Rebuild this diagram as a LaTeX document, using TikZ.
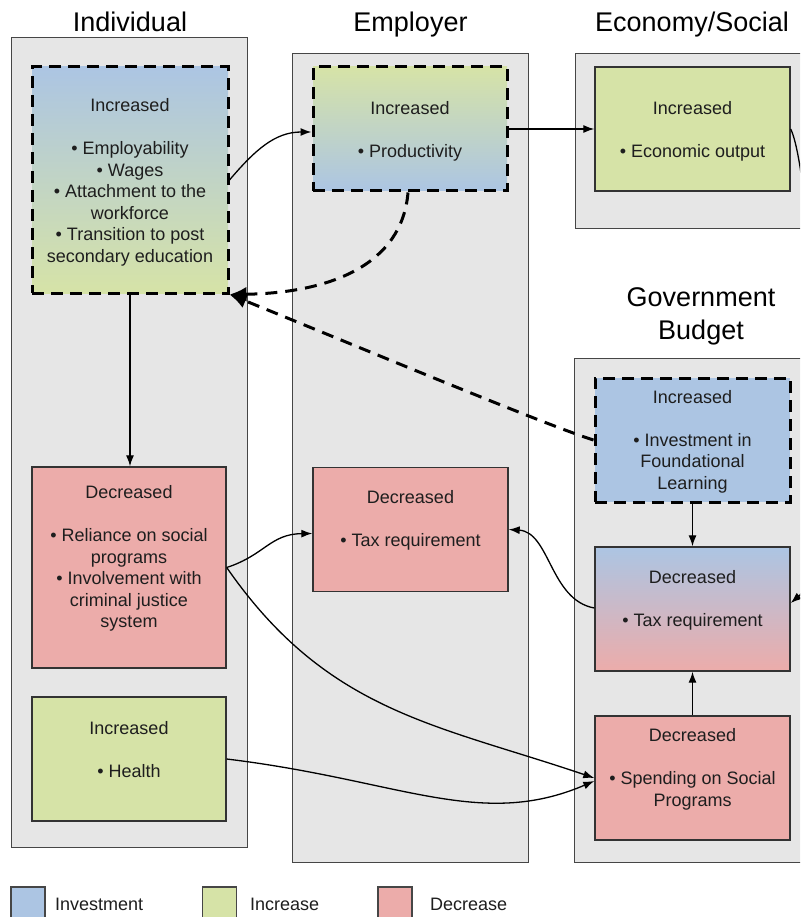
\documentclass[tikz,border=0pt]{standalone}
\usepackage{fontspec}
\setmainfont{Liberation Sans}
\usetikzlibrary{arrows.meta}
\definecolor{cblue}{RGB}{172,197,227}
\definecolor{cgreen}{RGB}{214,227,167}
\definecolor{cred}{RGB}{236,172,170}
\definecolor{cgray}{RGB}{230,230,230}
\definecolor{cline}{RGB}{70,70,70}
\definecolor{ctext}{RGB}{30,30,30}
\begin{document}
\begin{tikzpicture}[x=1pt,y=1pt,
  col/.style={fill=cgray, draw=cline, line width=1.4pt, anchor=north west, inner sep=0pt},
  box/.style={draw=black!80, line width=1.4pt, minimum width=195pt, minimum height=124pt, inner sep=0pt},
  dbox/.style={draw=black, line width=3pt, dash pattern=on 12pt off 7pt, minimum width=195pt, minimum height=124pt, inner sep=0pt},
  txt/.style={font=\fontsize{18}{21.5}\selectfont, align=center, inner sep=0pt, text=ctext},
  head/.style={font=\fontsize{27}{33}\selectfont, inner sep=0pt, anchor=base, text=black},
  arr/.style={-{Latex[length=11pt,width=8pt]}, line width=1.3pt},
  darr/.style={-{Latex[length=17pt,width=15pt]}, line width=3pt, dash pattern=on 12pt off 8pt},
  leg/.style={draw=cline, line width=1.4pt, minimum width=34pt, minimum height=34pt, inner sep=0pt},
  ltxt/.style={font=\fontsize{18}{21.5}\selectfont, anchor=west, inner sep=0pt, text=ctext}
]
\useasboundingbox (0,0) rectangle (800,-917);
\clip (0,0) rectangle (800,-917);
\fill[white] (0,0) rectangle (800,-917);

% columns
\node[col, minimum width=236pt, minimum height=810pt] (colind) at (11,-37) {};
\node[col, minimum width=236pt, minimum height=809pt] (colemp) at (292,-53) {};
\node[col, minimum width=255pt, minimum height=175pt] (colecon) at (575,-53) {};
\node[col, minimum width=256pt, minimum height=504pt] (colgov) at (574,-358) {};

% headers
\node[head] (hind) at (130,-31.5) {Individual};
\node[head] (hemp) at (410.5,-31.5) {Employer};
\node[head] (hecon) at (692,-31.5) {Economy/Social};
\node[head] (hgova) at (701,-306.5) {Government};
\node[head] (hgovb) at (701,-339.5) {Budget};

% boxes
\node[dbox, minimum width=196pt, minimum height=226pt, top color=cblue, bottom color=cgreen] (ind1) at (130,-180) {};
\node[box, minimum width=194pt, minimum height=201pt, fill=cred] (ind2) at (129,-567.5) {};
\node[box, minimum width=194pt, fill=cgreen] (ind3) at (129,-759) {};
\node[dbox, minimum width=194pt, top color=cgreen, bottom color=cblue] (emp1) at (410,-129) {};
\node[box, fill=cred] (emp2) at (410.5,-529.5) {};
\node[box, fill=cgreen] (econ1) at (692.5,-129) {};
\node[dbox, fill=cblue] (gov1) at (692.5,-440) {};
\node[box, top color=cblue, bottom color=cred] (gov2) at (692.5,-609) {};
\node[box, fill=cred] (gov3) at (692.5,-778) {};

% texts
\node[txt] (ind1t) at (130,-182.5) {Increased\\[21.5pt]• Employability\\• Wages\\• Attachment to the\\workforce\\• Transition to post\\secondary education};
\node[txt] (emp1t) at (410,-131.5) {Increased\\[21.5pt]• Productivity};
\node[txt] (econ1t) at (692.5,-131.5) {Increased\\[21.5pt]• Economic output};
\node[txt] (ind2t) at (129,-558.5) {Decreased\\[21.5pt]• Reliance on social\\programs\\• Involvement with\\criminal justice\\system};
\node[txt] (emp2t) at (410.5,-520.5) {Decreased\\[21.5pt]• Tax requirement};
\node[txt] (ind3t) at (129,-750) {Increased\\[21.5pt]• Health};
\node[txt] (gov1t) at (692.5,-441.5) {Increased\\[21.5pt]• Investment in\\Foundational\\Learning};
\node[txt] (gov2t) at (692.5,-600.5) {Decreased\\[21.5pt]• Tax requirement};
\node[txt] (gov3t) at (692.5,-769.5) {Decreased\\[21.5pt]• Spending on Social\\Programs};

% arrows
\draw[arr] (ind1.south) -- (ind1.south |- ind2.north);
\draw[arr] (ind1.east) .. controls (255,-150) and (275,-132) .. ([yshift=-3pt]emp1.west);
\draw[arr] (emp1.east) -- (econ1.west);
\draw[arr] (econ1.east) .. controls (815,-180) and (830,-570) .. ([yshift=6pt]gov2.east);
\draw[darr] ([xshift=-2pt]emp1.south) .. controls (402,-265) and (330,-293) .. (ind1.south east);
\draw[darr] (gov1.west) .. controls (545,-425) and (330,-335) .. (ind1.south east);
\draw[arr] (gov1.south) -- (gov2.north);
\draw[arr] (gov3.north) -- (gov2.south);
\draw[arr] ([yshift=1pt]gov2.west) .. controls (550,-600) and (550,-532) .. (emp2.east);
\draw[arr] (ind2.east) .. controls (265,-555) and (270,-534) .. ([yshift=-4pt]emp2.west);
\draw[arr] (ind2.east) .. controls (327,-712) and (435,-724) .. (gov3.west);
\draw[arr] (ind3.east) .. controls (400,-780) and (480,-830) .. ([yshift=-3pt]gov3.west);

% legend
\node[leg, fill=cblue] (lginv) at (28,-904) {};
\node[ltxt] (ltinv) at (55,-904) {Investment};
\node[leg, fill=cgreen] (lginc) at (219.5,-904) {};
\node[ltxt] (ltinc) at (250,-904) {Increase};
\node[leg, fill=cred] (lgdec) at (395,-904) {};
\node[ltxt] (ltdec) at (430,-904) {Decrease};
\end{tikzpicture}
\end{document}
